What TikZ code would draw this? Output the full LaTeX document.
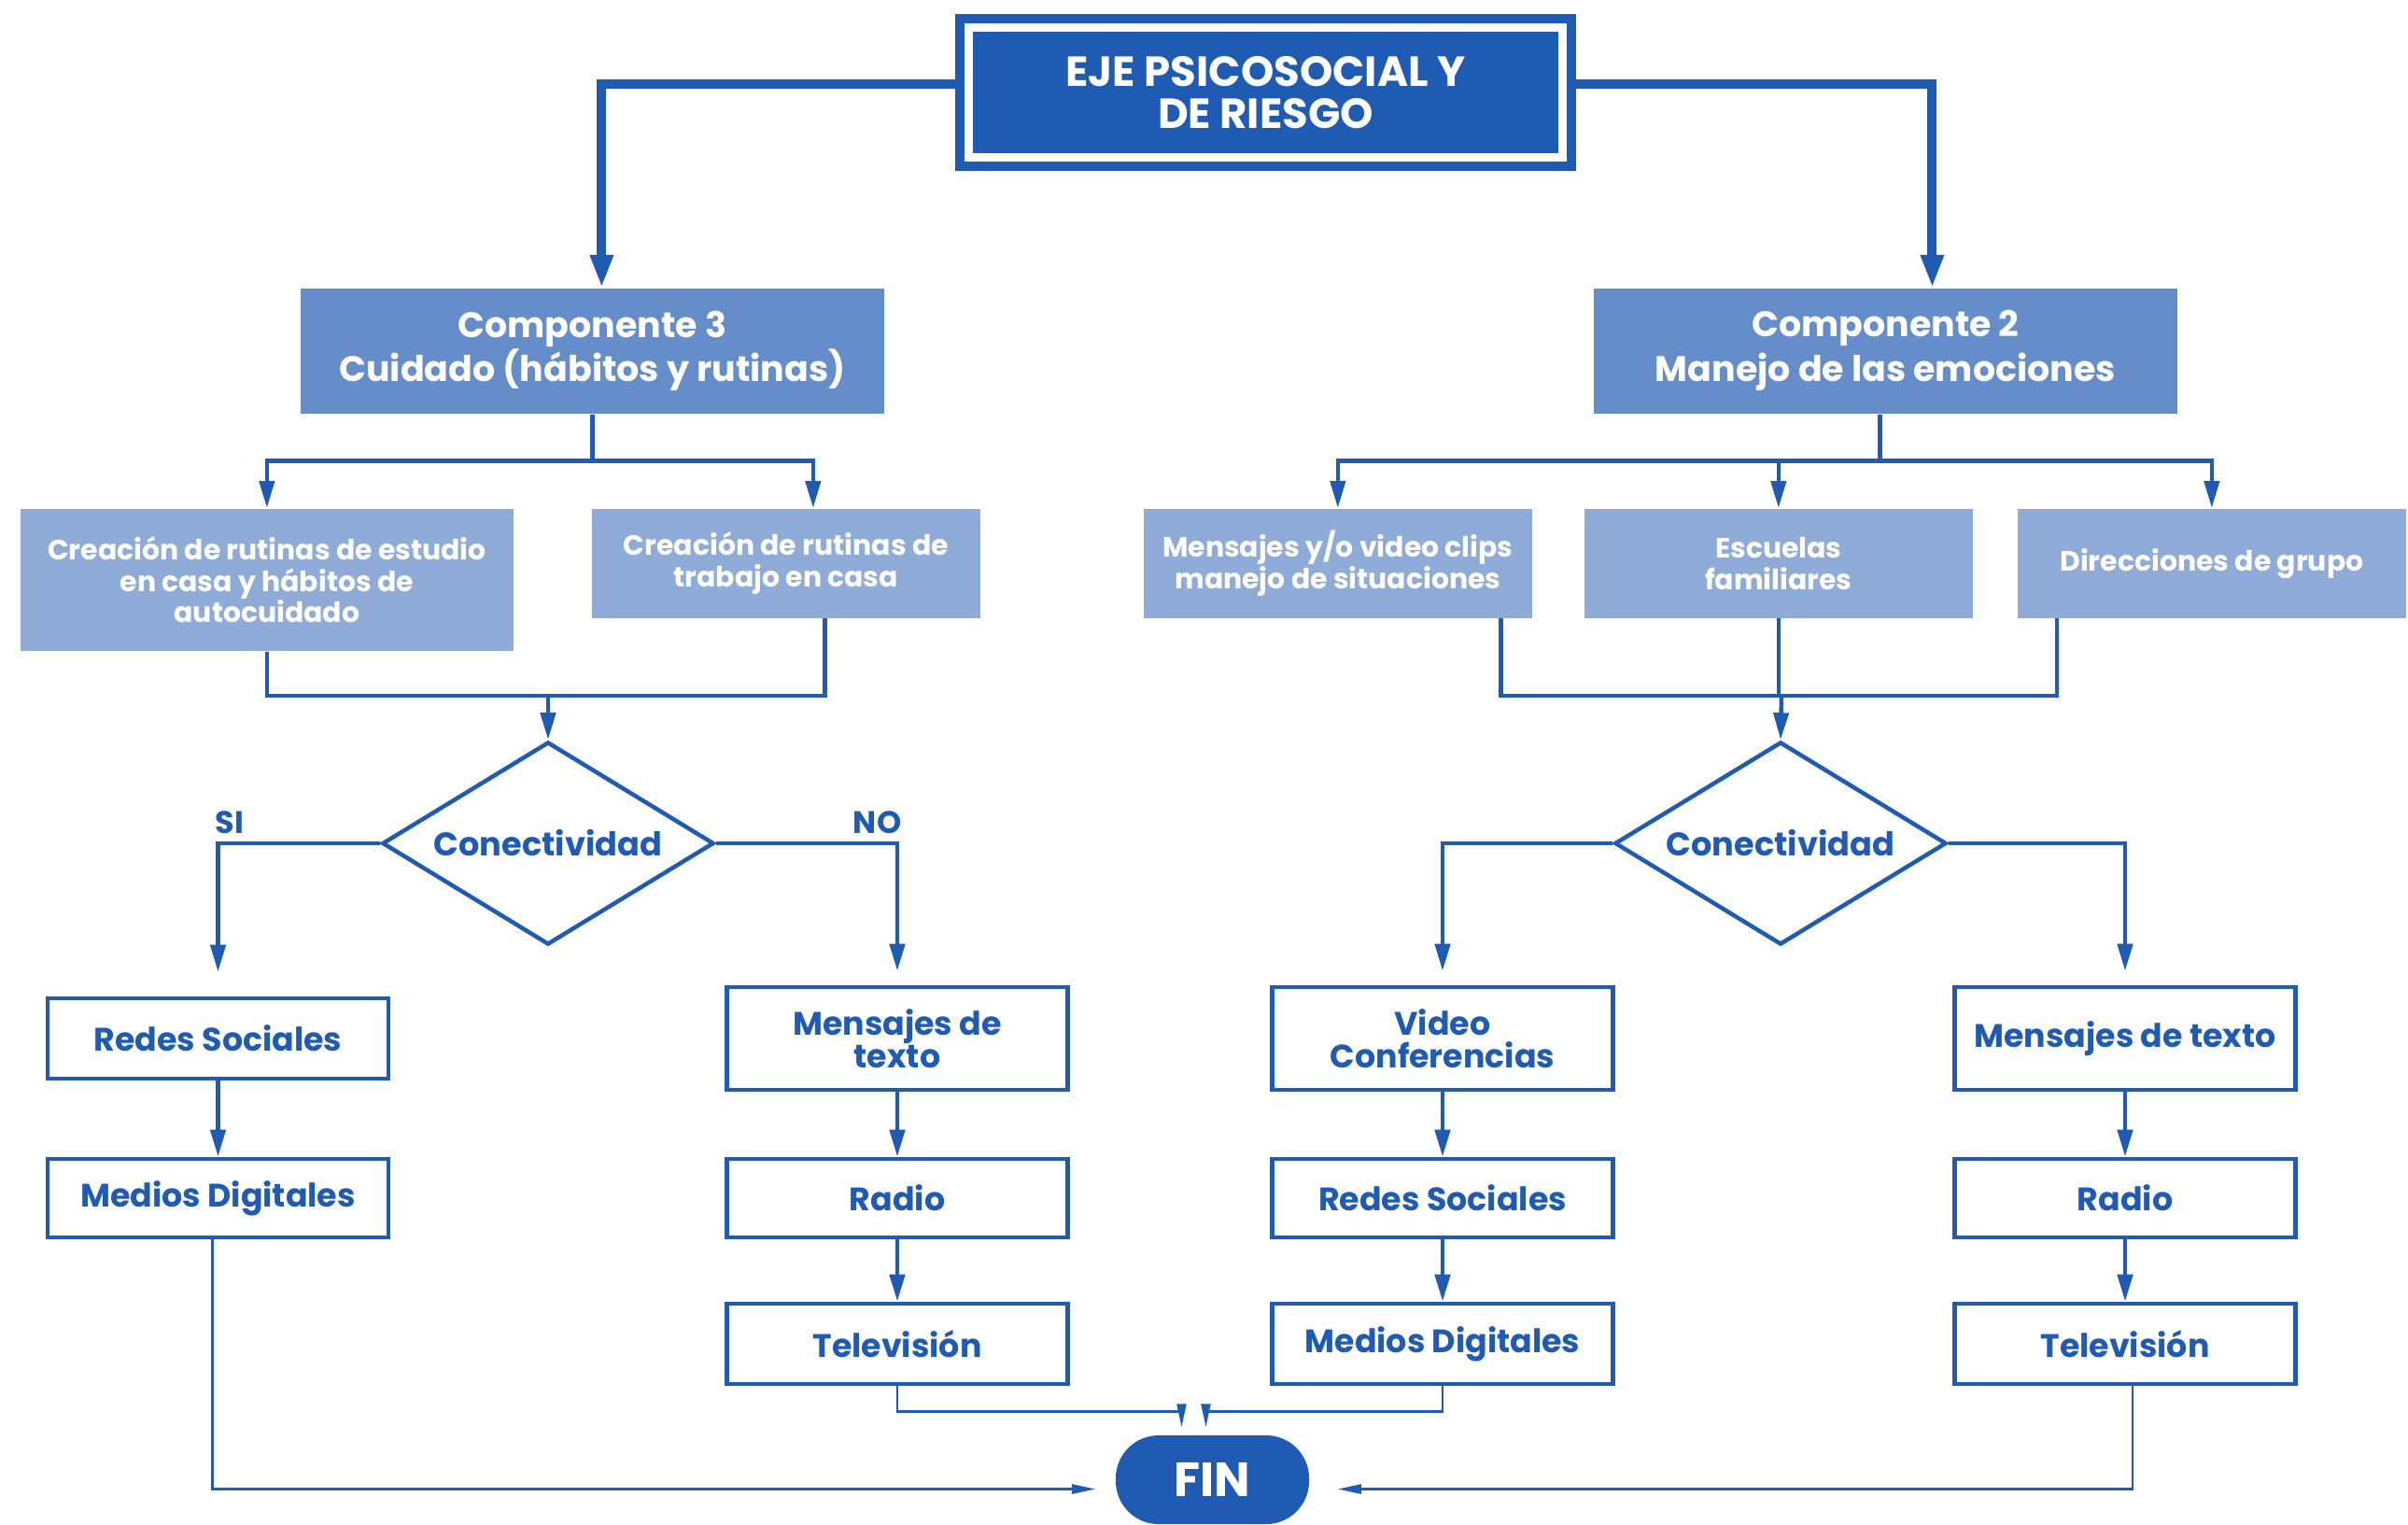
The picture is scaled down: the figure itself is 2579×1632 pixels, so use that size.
\documentclass[tikz,border=0pt]{standalone}
\usepackage{fontspec}
\setmainfont{Poppins}
\usetikzlibrary{shapes.geometric,arrows.meta}

\definecolor{azul}{HTML}{1F5BB3}
\definecolor{azulmedio}{HTML}{658DCA}
\definecolor{azulclaro}{HTML}{8FACD8}

\tikzset{
  eje/.style={rectangle, fill=azul, draw=azul, double=white, double distance=0.09cm, line width=0.1cm, text=white, align=center, font=\fontsize{12.8}{13}\selectfont\bfseries, minimum width=6.36cm, minimum height=1.39cm},
  componente/.style={rectangle, fill=azulmedio, text=white, align=center, font=\fontsize{10.8}{13.6}\selectfont\bfseries, minimum width=6.25cm, minimum height=1.34cm, anchor=north west},
  accion/.style={rectangle, fill=azulclaro, text=white, align=center, font=\fontsize{8.5}{9.6}\selectfont\bfseries, minimum width=4.16cm, minimum height=1.17cm, anchor=north west},
  decision/.style={diamond, shape aspect=1.64, draw=azul, line width=0.045cm, fill=white, text=azul, font=\fontsize{10}{10}\selectfont\bfseries, minimum width=3.55cm, minimum height=2.17cm, inner sep=0pt},
  medio/.style={rectangle, draw=azul, line width=0.045cm, fill=white, text=azul, align=center, font=\fontsize{9.9}{10}\selectfont\bfseries, minimum width=3.65cm, minimum height=0.84cm},
  fin/.style={rectangle, rounded corners=0.46cm, fill=azul, text=white, font=\fontsize{14.6}{14.6}\selectfont\bfseries, minimum width=2.07cm, minimum height=0.95cm},
  rama/.style={text=azul, inner sep=0pt, font=\fontsize{9.5}{9.5}\selectfont\bfseries},
  gruesa/.style={draw=azul, line width=0.1cm, -{Triangle[length=0.35cm, width=0.23cm]}},
  media/.style={draw=azul, line width=0.045cm},
  flecha/.style={media, -{Triangle[length=0.29cm, width=0.16cm]}},
  flechafina/.style={draw=azul, line width=0.025cm, -{Triangle[length=0.25cm, width=0.1cm]}}
}

\begin{document}
\begin{tikzpicture}[x=0.01cm, y=-0.01cm]

\useasboundingbox (0,0) rectangle (2579,1632);

% eje y componentes
\node[eje] (eje) at (1355.5,99) {EJE PSICOSOCIAL Y\\DE RIESGO};
\node[componente] (c3) at (321,308) {Componente 3\\Cuidado (hábitos y rutinas)};
\node[componente] (c2) at (1706,308) {Componente 2\\Manejo de las emociones};

% acciones
\node[accion, minimum width=5.28cm, minimum height=1.52cm] (a1) at (21,544) {Creación de rutinas de estudio\\en casa y hábitos de\\autocuidado};
\node[accion] (a2) at (633,544) {Creación de rutinas de\\trabajo en casa};
\node[accion] (b1) at (1224,544) {Mensajes y/o video clips\\manejo de situaciones};
\node[accion] (b2) at (1696,544) {Escuelas\\familiares};
\node[accion] (b3) at (2160,544) {Direcciones de grupo};

% decisiones
\node[decision] (d1) at (587,903) {Conectividad};
\node[decision] (d2) at (1907,903) {Conectividad};
\coordinate (j1) at (587,745);
\coordinate (j2) at (1908,745);

\node[rama, anchor=base west] (si) at (230,892) {SI};
\node[rama, anchor=base east] (no) at (966,892) {NO};

% medios
\node[medio, minimum height=0.86cm] (rsA) at (233.5,1112) {Redes Sociales};
\node[medio] (mdA) at (233.5,1283) {Medios Digitales};

\node[medio, minimum height=1.1cm] (mtB) at (961,1112) {Mensajes de\\texto};
\node[medio] (raB) at (961,1283) {Radio};
\node[medio, minimum height=0.86cm] (tvB) at (961,1439) {Televisión};

\node[medio, minimum height=1.1cm] (vcC) at (1545,1112) {Video\\Conferencias};
\node[medio] (rsC) at (1545,1283) {Redes Sociales};
\node[medio, minimum height=0.86cm] (mdC) at (1545,1439) {Medios Digitales};

\node[medio, minimum height=1.1cm] (mtD) at (2276,1112) {Mensajes de texto};
\node[medio] (raD) at (2276,1283) {Radio};
\node[medio, minimum height=0.86cm] (tvD) at (2276,1439) {Televisión};

\node[fin] (fin) at (1298.5,1584.5) {FIN};

% conectores
\draw[gruesa] ([yshift=0.09cm]eje.west) -| ([xshift=0.1cm]c3.north);
\draw[gruesa] ([yshift=0.09cm]eje.east) -| ([xshift=0.5cm]c2.north);

\draw[flecha] (c3.south) -- ++(0,50) -| (a1.north);
\draw[flecha] (c3.south) -- ++(0,50) -| ([xshift=0.29cm]a2.north);
\draw[flecha] ([xshift=-0.06cm]c2.south) -- ++(0,50) -| (b1.north);
\draw[flecha] ([xshift=-0.06cm]c2.south) -- ++(0,50) -| (b2.north);
\draw[flecha] ([xshift=-0.06cm]c2.south) -- ++(0,50) -| (b3.north);

\draw[media] (a1.south) |- (j1) -| ([xshift=-1.67cm]a2.south east);
\draw[flecha] (j1) -- (d1.north);
\draw[media] ([xshift=-0.34cm]b1.south east) |- (j2) -| ([xshift=0.43cm]b3.south west);
\draw[media] (b2.south) -- (b2.south |- j2);
\draw[flecha] (j2) -- (d2.north);

\draw[flecha, shorten >=0.26cm] (d1.west) -| (rsA.north);
\draw[flecha, shorten >=0.15cm] (d1.east) -| (mtB.north);
\draw[flecha, shorten >=0.15cm] (d2.west) -| (vcC.north);
\draw[flecha, shorten >=0.15cm] (d2.east) -| (mtD.north);

\draw[flecha] (rsA) -- (mdA);
\draw[flecha] (mtB) -- (raB);
\draw[flecha] (raB) -- (tvB);
\draw[flecha] (vcC) -- (rsC);
\draw[flecha] (rsC) -- (mdC);
\draw[flecha] (mtD) -- (raD);
\draw[flecha] (raD) -- (tvD);

\draw[flechafina, shorten >=0.08cm] (tvB.south) -- ++(0,27) -| ([xshift=-0.33cm]fin.north);
\draw[flechafina, shorten >=0.08cm] (mdC.south) -- ++(0,27) -| ([xshift=-0.07cm]fin.north);
\draw[flechafina, shorten >=0.21cm] ([xshift=-0.06cm]mdA.south) |- ([yshift=-0.1cm]fin.west);
\draw[flechafina, shorten >=0.3cm] ([xshift=0.08cm]tvD.south) |- ([yshift=-0.1cm]fin.east);

\end{tikzpicture}
\end{document}
